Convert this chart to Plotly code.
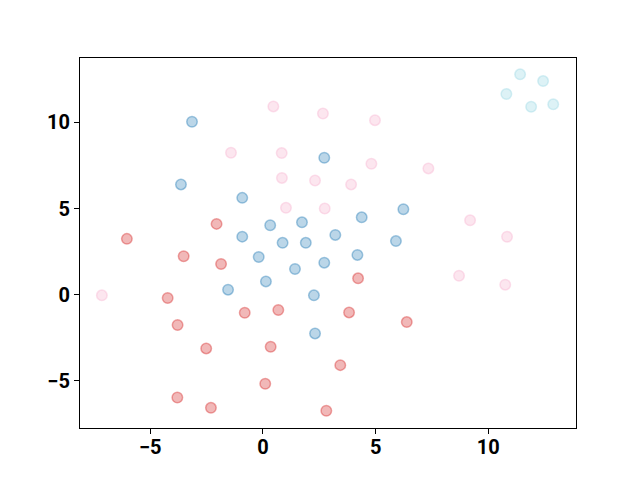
import plotly.graph_objects as go

blue_x = [-3.15, 2.72, -3.64, -0.92, 0.32, 1.73, -0.92, 0.87, 1.90, -0.19, 2.72, 1.42, 0.13, -1.55, 2.26, 2.31, 4.38, 6.23, 3.21, 5.90, 4.19]
blue_y = [10.04, 7.95, 6.40, 5.62, 4.03, 4.20, 3.37, 3.01, 3.01, 2.19, 1.86, 1.49, 0.77, 0.29, -0.04, -2.25, 4.49, 4.96, 3.47, 3.11, 2.31]

red_x = [-2.06, -6.04, -3.52, -1.86, -4.23, -0.81, 0.68, -3.79, -2.52, 0.34, 0.10, -3.80, -2.31, 2.81, 4.22, 3.82, 6.38, 3.43]
red_y = [4.11, 3.24, 2.23, 1.78, -0.19, -1.05, -0.89, -1.76, -3.12, -3.02, -5.17, -5.97, -6.57, -6.74, 0.95, -1.03, -1.59, -4.09]

pink_x = [-7.15, 0.46, 2.66, 4.97, -1.42, 0.83, 0.84, 2.31, 1.02, 2.74, 4.81, 7.34, 3.91, 9.19, 10.83, 8.70, 10.75]
pink_y = [-0.04, 10.93, 10.52, 10.13, 8.24, 8.22, 6.78, 6.63, 5.04, 5.00, 7.60, 7.33, 6.40, 4.32, 3.36, 1.10, 0.58]

cyan_x = [11.41, 12.43, 10.80, 11.90, 12.88]
cyan_y = [12.79, 12.40, 11.65, 10.91, 11.05]

tick_vals = [-5, 0, 5, 10]
tick_text = ["\u22125", "0", "5", "10"]

series = [
    (blue_x, blue_y, "rgba(31,119,180,0.30)", "rgba(31,119,180,0.40)"),
    (red_x, red_y, "rgba(214,39,40,0.33)", "rgba(214,39,40,0.40)"),
    (pink_x, pink_y, "rgba(247,182,210,0.35)", "rgba(247,182,210,0.42)"),
    (cyan_x, cyan_y, "rgba(158,218,229,0.35)", "rgba(158,218,229,0.42)"),
]

fig = go.Figure()
for xs, ys, fc, lc in series:
    fig.add_trace(go.Scatter(
        x=xs, y=ys, mode="markers",
        marker=dict(size=10.5, color=fc, line=dict(color=lc, width=1.5)),
        showlegend=False,
    ))

axis_common = dict(
    showgrid=False, zeroline=False, showline=True, linecolor="black", linewidth=1.2,
    mirror=True, ticks="outside", ticklen=5, tickwidth=1, tickcolor="black",
    tickvals=tick_vals, ticktext=tick_text, automargin=False,
    tickfont=dict(family="Roboto", size=20, color="black", weight="bold"),
)

fig.update_layout(
    width=640, height=480,
    paper_bgcolor="white", plot_bgcolor="white",
    margin=dict(l=72, r=72, t=50, b=60),
    xaxis=dict(range=[-8.12, 13.89], ticklabelstandoff=-4, **axis_common),
    yaxis=dict(range=[-7.74, 13.74], **axis_common),
)

fig.write_html("out.html")
